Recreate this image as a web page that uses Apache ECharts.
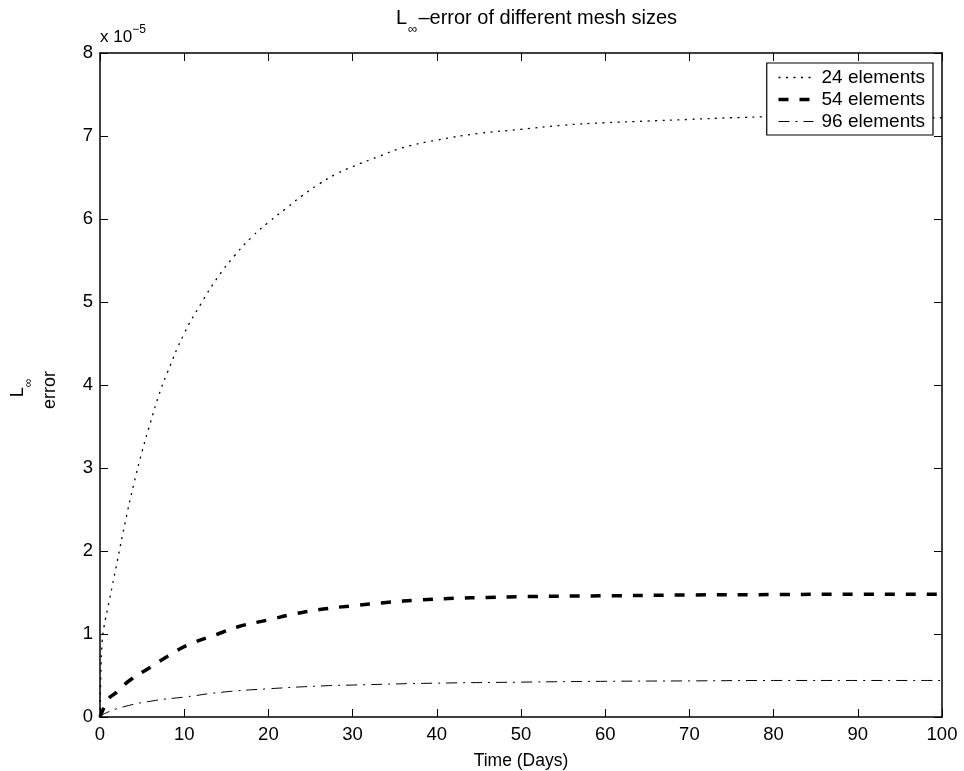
<!DOCTYPE html>
<html>
<head>
<meta charset="utf-8">
<script src="https://cdn.jsdelivr.net/npm/echarts@6/dist/echarts.min.js"></script>
<style>html,body{margin:0;padding:0;background:#fff;}#c{width:964px;height:771px;}</style>
</head>
<body>
<div id="c"></div>
<script>
// Values in units of 1e-5
var days24 = [0, 0.1, 0.25, 0.5, 1, 1.5, 2, 3, 4, 5, 6, 7, 8, 10, 12, 14, 16, 18, 20, 22, 24, 26, 28, 30, 33, 36, 40, 45, 50, 55, 60, 65, 70, 75, 80, 85, 90, 95, 100];
var err24  = [0, 0.5, 0.9, 1.1, 1.35, 1.6, 1.85, 2.35, 2.8, 3.2, 3.55, 3.88, 4.15, 4.62, 4.98, 5.3, 5.56, 5.78, 5.96, 6.12, 6.28, 6.42, 6.54, 6.63, 6.75, 6.86, 6.95, 7.03, 7.08, 7.13, 7.16, 7.18, 7.2, 7.22, 7.23, 7.23, 7.23, 7.22, 7.22];

var days54 = [0, 0.5, 1, 2, 3.5, 6, 8, 10.5, 14, 16.5, 20, 23, 26.5, 30, 34, 38, 42, 46, 50, 60, 70, 80, 90, 100];
var err54  = [0, 0.12, 0.22, 0.3, 0.44, 0.6, 0.73, 0.87, 1.0, 1.09, 1.17, 1.24, 1.3, 1.34, 1.38, 1.41, 1.43, 1.44, 1.45, 1.46, 1.47, 1.475, 1.48, 1.48];

var days96 = [0, 0.3, 2.7, 6.6, 10, 14.6, 20, 26.5, 30, 38.4, 50, 60, 70, 80, 90, 100];
var err96  = [0, 0.03, 0.12, 0.2, 0.24, 0.3, 0.34, 0.375, 0.385, 0.405, 0.42, 0.43, 0.435, 0.44, 0.44, 0.44];

var seriesNames = ['24 elements', '54 elements', '96 elements'];
var xTicks = [0, 100, 10];
var yTicks = [0, 8, 1];

function pairs(xs, ys) { return xs.map(function (x, i) { return [x, ys[i]]; }); }

var FONT = '"Liberation Sans", Arial, Helvetica, sans-serif';
var chart = echarts.init(document.getElementById('c'), null, {renderer: 'canvas'});

var axisCommon = {
  axisLine: {show: true, onZero: false, lineStyle: {color: '#000', width: 1.5}},
  axisTick: {show: true, inside: true, length: 8, lineStyle: {color: '#000', width: 1}},
  splitLine: {show: false}
};

var styles = [
  {color: '#000', width: 1.3, type: [2, 5.5]},
  {color: '#000', width: 3.5, type: [10, 11]},
  {color: '#000', width: 1, type: [11, 6, 2, 6]}
];

chart.setOption({
  animation: false,
  backgroundColor: '#fff',
  textStyle: {fontFamily: FONT},
  title: {
    text: '{m|L}{s|∞}{m|–error of different mesh sizes}',
    left: 391,
    top: 3,
    textStyle: {
      fontWeight: 'normal',
      rich: {
        m: {fontFamily: FONT, fontSize: 20, fontWeight: 'normal', color: '#000', lineHeight: 28, verticalAlign: 'top'},
        s: {fontFamily: FONT, fontSize: 13, fontWeight: 'normal', color: '#000', lineHeight: 28, verticalAlign: 'bottom', padding: [0, 1, 0, 1]}
      }
    }
  },
  grid: {left: 100, right: 22, top: 53, bottom: 54, containLabel: false, outerBoundsMode: 'none'},
  legend: {
    right: 31,
    top: 63,
    orient: 'vertical',
    backgroundColor: '#fff',
    borderColor: '#000',
    borderWidth: 1.2,
    borderRadius: 0,
    padding: [5, 8, 4, 10],
    itemGap: 3,
    itemWidth: 35,
    itemHeight: 14,
    itemStyle: {opacity: 0},
    textStyle: {fontFamily: FONT, fontSize: 19, color: '#000', padding: [0, 0, 0, 3]},
    data: seriesNames.map(function (n, i) {
      return {name: n, lineStyle: {color: '#000', width: styles[i].width, type: styles[i].type}};
    })
  },
  xAxis: [
    Object.assign({
      type: 'value', min: xTicks[0], max: xTicks[1], interval: xTicks[2],
      position: 'bottom',
      name: 'Time (Days)', nameLocation: 'middle', nameGap: 35,
      nameTextStyle: {fontFamily: FONT, fontSize: 17.5, color: '#000'},
      axisLabel: {fontFamily: FONT, fontSize: 18.5, color: '#000', margin: 8}
    }, axisCommon),
    Object.assign({
      type: 'value', min: xTicks[0], max: xTicks[1], interval: xTicks[2],
      position: 'top', axisLabel: {show: false}
    }, axisCommon)
  ],
  yAxis: [
    Object.assign({
      type: 'value', min: yTicks[0], max: yTicks[1], interval: yTicks[2],
      position: 'left',
      axisLabel: {fontFamily: FONT, fontSize: 18.5, color: '#000', margin: 7}
    }, axisCommon),
    Object.assign({
      type: 'value', min: yTicks[0], max: yTicks[1], interval: yTicks[2],
      position: 'right', axisLabel: {show: false}
    }, axisCommon)
  ],
  graphic: [
    {
      type: 'text', left: 100, top: 24,
      style: {
        text: '{m|x 10}{s|−5}',
        rich: {
          m: {fontFamily: FONT, fontSize: 17, fill: '#000', lineHeight: 22, verticalAlign: 'bottom'},
          s: {fontFamily: FONT, fontSize: 12, fill: '#000', lineHeight: 22, verticalAlign: 'top'}
        }
      }
    },
    {
      type: 'text', x: 22, y: 388, rotation: Math.PI / 2,
      style: {
        text: '{m|L}{s|∞}',
        align: 'center', verticalAlign: 'middle',
        rich: {
          m: {fontFamily: FONT, fontSize: 18, fill: '#000', lineHeight: 26, verticalAlign: 'top'},
          s: {fontFamily: FONT, fontSize: 12, fill: '#000', lineHeight: 26, verticalAlign: 'bottom'}
        }
      }
    },
    {
      type: 'text', x: 50, y: 390, rotation: Math.PI / 2,
      style: {
        text: 'error', align: 'center', verticalAlign: 'middle',
        fontFamily: FONT, fontSize: 18, fill: '#000'
      }
    }
  ],
  series: seriesNames.map(function (n, i) {
    var xs = [days24, days54, days96][i];
    var ys = [err24, err54, err96][i];
    return {
      name: n, type: 'line', xAxisIndex: 0, yAxisIndex: 0,
      data: pairs(xs, ys), showSymbol: false, symbol: 'none', smooth: true,
      lineStyle: styles[i],
      itemStyle: {color: '#000'}, z: 3
    };
  })
});
</script>
</body>
</html>
